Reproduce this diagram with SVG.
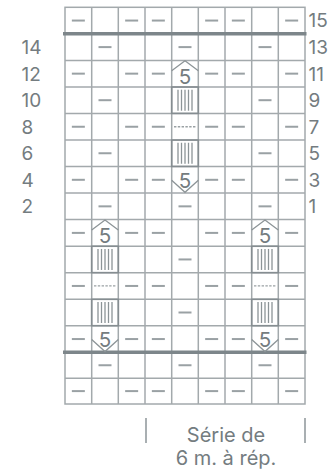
<svg xmlns="http://www.w3.org/2000/svg" xmlns:xlink="http://www.w3.org/1999/xlink" width="333" height="472" viewBox="0 0 333 472">
<style>
.g{stroke:#a3a9ac;stroke-width:1.5;fill:none}
.thick{stroke:#7d868a;stroke-width:3.5}
.d{stroke:#9aa1a4;stroke-width:2}
.bar{stroke:#8c9497;stroke-width:1.3}
.box{stroke:#858d91;stroke-width:1.6;fill:none}
.dash{stroke:#9aa1a4;stroke-width:1.3;stroke-dasharray:2.4 1.4}
.chev{stroke:#8c9497;stroke-width:1.3;fill:none}
.t{font-family:Inter,"Liberation Sans",sans-serif;fill:#747c80;font-size:19px}
.f{font-family:Inter,"Liberation Sans",sans-serif;fill:#747c80;font-size:19px;text-anchor:middle}
.b{font-size:20px}
.sep{stroke:#8d9598;stroke-width:1.5}
</style>
<defs>
<line id="m" x1="-6.5" y1="0" x2="6.5" y2="0" class="d"/>
<g id="bars"><rect x="-13.33" y="-13.2" width="26.67" height="26.4" class="box"/><line x1="-7" y1="-10.5" x2="-7" y2="10.5" class="bar"/><line x1="-3.5" y1="-10.5" x2="-3.5" y2="10.5" class="bar"/><line x1="0" y1="-10.5" x2="0" y2="10.5" class="bar"/><line x1="3.5" y1="-10.5" x2="3.5" y2="10.5" class="bar"/><line x1="7" y1="-10.5" x2="7" y2="10.5" class="bar"/></g>
<line id="dl" x1="-11" y1="0" x2="11" y2="0" class="dash"/>
<g id="up"><polyline points="-13.33,-3 0,-12.8 13.33,-3" class="chev"/><text x="0" y="10.5" class="f" style="font-size:20.5px">5</text></g>
<g id="down"><polyline points="-13.33,0.5 0,12.5 13.33,0.5" class="chev"/><text x="0" y="8" class="f" style="font-size:20.5px">5</text></g>
</defs>
<g id="grid">
<rect x="65" y="7.3" width="240" height="396.7" class="g"/>
<g class="g">
<line x1="91.7" y1="7.3" x2="91.7" y2="404"/><line x1="118.3" y1="7.3" x2="118.3" y2="404"/><line x1="145" y1="7.3" x2="145" y2="404"/><line x1="171.7" y1="7.3" x2="171.7" y2="404"/><line x1="198.3" y1="7.3" x2="198.3" y2="404"/><line x1="225" y1="7.3" x2="225" y2="404"/><line x1="251.7" y1="7.3" x2="251.7" y2="404"/><line x1="278.3" y1="7.3" x2="278.3" y2="404"/>
<line x1="65" y1="60.4" x2="305" y2="60.4"/><line x1="65" y1="86.9" x2="305" y2="86.9"/><line x1="65" y1="113.5" x2="305" y2="113.5"/><line x1="65" y1="140" x2="305" y2="140"/><line x1="65" y1="166.5" x2="305" y2="166.5"/><line x1="65" y1="193.1" x2="305" y2="193.1"/><line x1="65" y1="219.6" x2="305" y2="219.6"/><line x1="65" y1="246.2" x2="305" y2="246.2"/><line x1="65" y1="272.7" x2="305" y2="272.7"/><line x1="65" y1="299.2" x2="305" y2="299.2"/><line x1="65" y1="325.8" x2="305" y2="325.8"/><line x1="65" y1="378.2" x2="305" y2="378.2"/>
</g>
<line x1="63" y1="33.8" x2="306.5" y2="33.8" class="thick"/>
<line x1="63" y1="352.3" x2="306.5" y2="352.3" class="thick"/>
</g>
<g id="symbols">
<use xlink:href="#m" x="78.35" y="20.55"/><use xlink:href="#m" x="131.65" y="20.55"/><use xlink:href="#m" x="158.35" y="20.55"/><use xlink:href="#m" x="211.65" y="20.55"/><use xlink:href="#m" x="238.35" y="20.55"/><use xlink:href="#m" x="291.65" y="20.55"/>
<use xlink:href="#m" x="105" y="47.1"/><use xlink:href="#m" x="185" y="47.1"/><use xlink:href="#m" x="265" y="47.1"/>
<use xlink:href="#m" x="78.35" y="73.65"/><use xlink:href="#m" x="131.65" y="73.65"/><use xlink:href="#m" x="158.35" y="73.65"/><use xlink:href="#up" x="185" y="73.65"/><use xlink:href="#m" x="211.65" y="73.65"/><use xlink:href="#m" x="238.35" y="73.65"/><use xlink:href="#m" x="291.65" y="73.65"/>
<use xlink:href="#m" x="105" y="100.2"/><use xlink:href="#bars" x="185" y="100.2"/><use xlink:href="#m" x="265" y="100.2"/>
<use xlink:href="#m" x="78.35" y="126.75"/><use xlink:href="#m" x="131.65" y="126.75"/><use xlink:href="#m" x="158.35" y="126.75"/><use xlink:href="#dl" x="185" y="126.75"/><use xlink:href="#m" x="211.65" y="126.75"/><use xlink:href="#m" x="238.35" y="126.75"/><use xlink:href="#m" x="291.65" y="126.75"/>
<use xlink:href="#m" x="105" y="153.25"/><use xlink:href="#bars" x="185" y="153.25"/><use xlink:href="#m" x="265" y="153.25"/>
<use xlink:href="#m" x="78.35" y="179.8"/><use xlink:href="#m" x="131.65" y="179.8"/><use xlink:href="#m" x="158.35" y="179.8"/><use xlink:href="#down" x="185" y="179.8"/><use xlink:href="#m" x="211.65" y="179.8"/><use xlink:href="#m" x="238.35" y="179.8"/><use xlink:href="#m" x="291.65" y="179.8"/>
<use xlink:href="#m" x="105" y="206.35"/><use xlink:href="#m" x="185" y="206.35"/><use xlink:href="#m" x="265" y="206.35"/>
<use xlink:href="#m" x="78.35" y="232.9"/><use xlink:href="#up" x="105" y="232.9"/><use xlink:href="#m" x="131.65" y="232.9"/><use xlink:href="#m" x="158.35" y="232.9"/><use xlink:href="#m" x="211.65" y="232.9"/><use xlink:href="#m" x="238.35" y="232.9"/><use xlink:href="#up" x="265" y="232.9"/><use xlink:href="#m" x="291.65" y="232.9"/>
<use xlink:href="#bars" x="105" y="259.45"/><use xlink:href="#m" x="185" y="259.45"/><use xlink:href="#bars" x="265" y="259.45"/>
<use xlink:href="#m" x="78.35" y="285.95"/><use xlink:href="#dl" x="105" y="285.95"/><use xlink:href="#m" x="131.65" y="285.95"/><use xlink:href="#m" x="158.35" y="285.95"/><use xlink:href="#m" x="211.65" y="285.95"/><use xlink:href="#m" x="238.35" y="285.95"/><use xlink:href="#dl" x="265" y="285.95"/><use xlink:href="#m" x="291.65" y="285.95"/>
<use xlink:href="#bars" x="105" y="312.5"/><use xlink:href="#m" x="185" y="312.5"/><use xlink:href="#bars" x="265" y="312.5"/>
<use xlink:href="#m" x="78.35" y="339.05"/><use xlink:href="#down" x="105" y="339.05"/><use xlink:href="#m" x="131.65" y="339.05"/><use xlink:href="#m" x="158.35" y="339.05"/><use xlink:href="#m" x="211.65" y="339.05"/><use xlink:href="#m" x="238.35" y="339.05"/><use xlink:href="#down" x="265" y="339.05"/><use xlink:href="#m" x="291.65" y="339.05"/>
<use xlink:href="#m" x="105" y="365.25"/><use xlink:href="#m" x="185" y="365.25"/><use xlink:href="#m" x="265" y="365.25"/>
<use xlink:href="#m" x="78.35" y="391.1"/><use xlink:href="#m" x="131.65" y="391.1"/><use xlink:href="#m" x="158.35" y="391.1"/><use xlink:href="#m" x="211.65" y="391.1"/><use xlink:href="#m" x="238.35" y="391.1"/><use xlink:href="#m" x="291.65" y="391.1"/>
</g>
<g id="labels-left" class="t">
<text x="21.5" y="54">14</text><text x="21.5" y="80.5">12</text><text x="21.5" y="107">10</text><text x="21.5" y="133.6">8</text><text x="21.5" y="160.1">6</text><text x="21.5" y="186.6">4</text><text x="21.5" y="213.2">2</text>
</g>
<g id="labels-right" class="t">
<text x="308.5" y="27.4">15</text><text x="308.5" y="54">13</text><text x="308.5" y="80.5">11</text><text x="308.5" y="107">9</text><text x="308.5" y="133.6">7</text><text x="308.5" y="160.1">5</text><text x="308.5" y="186.6">3</text><text x="308.5" y="213.2">1</text>
</g>
<g id="repeat">
<line x1="146" y1="418" x2="146" y2="443" class="sep"/>
<line x1="305" y1="418" x2="305" y2="443" class="sep"/>
<text x="226" y="442" class="f b">Série de</text>
<text x="226" y="465" class="f b">6 m. à rép.</text>
</g>
</svg>
